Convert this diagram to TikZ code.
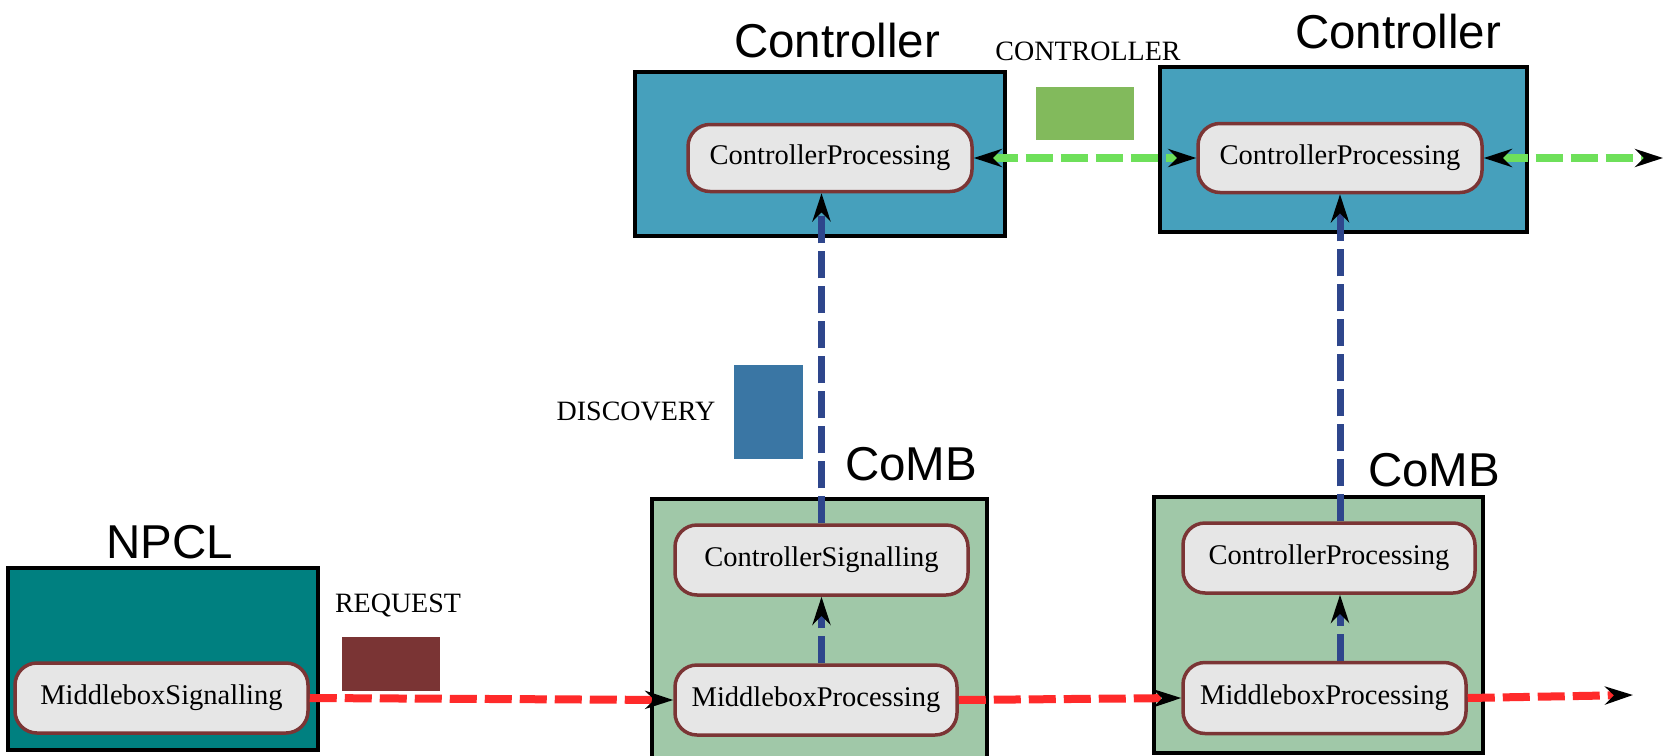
\documentclass[tikz,border=0pt]{standalone}
\usepackage{fontspec}
\setmainfont{Liberation Serif}
\newfontfamily\headfont{Liberation Sans}
\usetikzlibrary{arrows.meta}

\definecolor{ctrlfill}{HTML}{46A0BC}
\definecolor{npclfill}{HTML}{008080}
\definecolor{combfill}{HTML}{A0C8A8}
\definecolor{procfill}{HTML}{E6E6E6}
\definecolor{procedge}{HTML}{7B3535}
\definecolor{ctrlmsg}{HTML}{82BA5C}
\definecolor{reqmsg}{HTML}{7A3434}
\definecolor{discmsg}{HTML}{3A76A4}
\definecolor{greenflow}{HTML}{6EE05A}
\definecolor{redflow}{HTML}{FF2A2A}
\definecolor{blueflow}{HTML}{2E468C}

\begin{document}
\begin{tikzpicture}[x=1pt, y=-1pt,
  >={Stealth[length=28pt, width=18pt, inset=9pt, color=black]},
  container/.style={draw=black, line width=4pt, inner sep=0pt},
  proc/.style={draw=procedge, fill=procfill, line width=3.5pt,
    rounded corners=22pt, inner sep=0pt, font=\fontsize{28.5}{30}\selectfont},
  msgbox/.style={inner sep=0pt},
  heading/.style={font=\headfont\fontsize{47.5}{50}\selectfont, anchor=base, inner sep=0pt},
  msglabel/.style={font=\fontsize{28}{30}\selectfont, anchor=base, inner sep=0pt},
  flow/.style={line width=8pt, dash pattern=on 27pt off 8pt},
  ctrlflow/.style={flow, draw=greenflow},
  reqflow/.style={flow, draw=redflow},
  discflow/.style={flow, line width=7pt, draw=blueflow}]

\clip (0,0) rectangle (1664,755);

% component boxes
\node[container, fill=ctrlfill, minimum width=370pt, minimum height=164pt] (ctrlA) at (820,154) {};
\node[container, fill=ctrlfill, minimum width=367pt, minimum height=165pt] (ctrlB) at (1343.5,149.5) {};
\node[container, fill=combfill, minimum width=335pt, minimum height=276pt] (combA) at (819.5,637) {};
\node[container, fill=combfill, minimum width=329pt, minimum height=256pt] (combB) at (1318.5,625) {};
\node[container, fill=npclfill, minimum width=310pt, minimum height=182pt] (npcl) at (163,659) {};

% headings
\node[heading] (hCtrlA) at (837,57) {Controller};
\node[heading] (hCtrlB) at (1398,48) {Controller};
\node[heading] (hCombA) at (911,480) {CoMB};
\node[heading] (hCombB) at (1434,486) {CoMB};
\node[heading] (hNpcl) at (170,558) {NPCL};

% message markers
\node[msgbox, fill=ctrlmsg, minimum width=98pt, minimum height=53pt] (mCtrl) at (1085,113.5) {};
\node[msgbox, fill=reqmsg, minimum width=98pt, minimum height=54pt] (mReq) at (391,664) {};
\node[msgbox, fill=discmsg, minimum width=69pt, minimum height=94pt] (mDisc) at (768.5,412) {};
\node[msglabel] (lCtrl) at (1088,60) {CONTROLLER};
\node[msglabel] (lReq) at (398,612) {REQUEST};
\node[msglabel] (lDisc) at (636,420) {DISCOVERY};

% processing modules
\node[proc, minimum width=284pt, minimum height=67pt] (cpA) at (830,158) {ControllerProcessing};
\node[proc, minimum width=284pt, minimum height=69pt] (cpB) at (1340,158) {ControllerProcessing};
\node[proc, minimum width=293pt, minimum height=70pt] (cs) at (821.5,560) {ControllerSignalling};
\node[proc, minimum width=282pt, minimum height=70pt] (mpA) at (816,700) {MiddleboxProcessing};
\node[proc, minimum width=292pt, minimum height=70pt] (cpC) at (1329,558) {ControllerProcessing};
\node[proc, minimum width=283pt, minimum height=71pt] (mpB) at (1324.5,698) {MiddleboxProcessing};
\node[proc, minimum width=293pt, minimum height=70pt] (ms) at (161.5,698) {MiddleboxSignalling};

% open ends of the outgoing flows
\coordinate (greenEnd) at (1663,158);
\coordinate (redEnd) at (1633,695);

% controller-to-controller exchange
\draw[ctrlflow, <->] (cpA.east) -- (cpB.west);
\draw[ctrlflow, <->] (cpB.east) -- (greenEnd);

% request path
\draw[reqflow, ->] (ms.east) -- (mpA.west);
\draw[reqflow, ->] (mpA.east) -- (mpB.west);
\draw[reqflow, ->] (mpB.east) -- (redEnd);

% discovery path
\draw[discflow, ->] (cs.south |- mpA.north) -- (cs.south);
\draw[discflow, ->] (cs.north) -- (cs.north |- cpA.south);
\draw[discflow, ->] (cpB.south |- mpB.north) -- (cpB.south |- cpC.south);
\draw[discflow, ->] (cpB.south |- cpC.north) -- (cpB.south);
\end{tikzpicture}
\end{document}
